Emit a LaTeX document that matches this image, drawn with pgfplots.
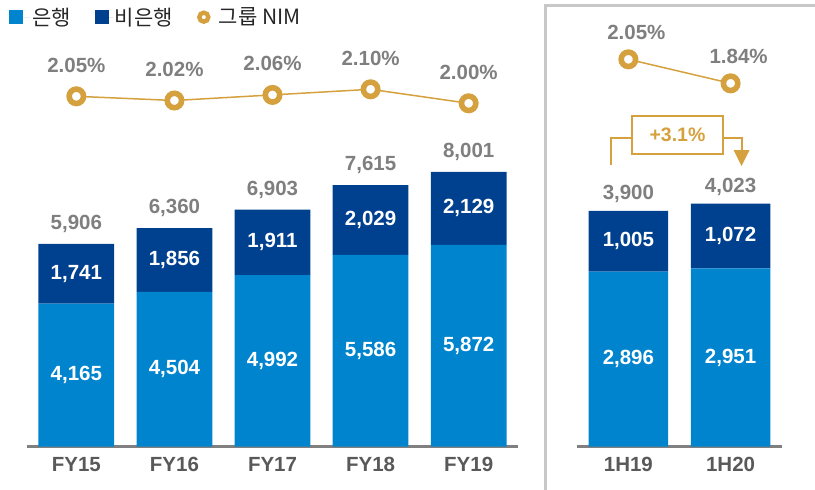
\documentclass[border=0pt]{standalone}
\usepackage{pgfplots}
\pgfplotsset{compat=1.18}
\usepackage{fontspec}
\setmainfont{Liberation Sans}
\newfontfamily\kr{Noto Sans CJK KR}

\definecolor{bank}{RGB}{0,132,206}
\definecolor{nonbank}{RGB}{0,65,143}
\definecolor{gold}{RGB}{213,161,62}
\definecolor{lbl}{RGB}{127,127,127}
\definecolor{ticktext}{RGB}{89,89,89}
\definecolor{axisgray}{RGB}{128,128,128}
\definecolor{framegray}{RGB}{200,200,200}

\newcommand\numfont{\bfseries\fontsize{20.5}{24}\selectfont}

\pgfplotsset{
  barax/.style={ybar stacked, ymin=0, enlargelimits=false, clip=false, anchor=south west,
    axis x line*=bottom, axis y line=none,
    x axis line style={-, draw=axisgray, line width=2.5pt},
    xtick style={draw=none}, major tick length=0pt,
    xticklabel style={font=\numfont, text=ticktext, anchor=center, yshift=-17.5pt},
    visualization depends on={rawy \as \rawy},
    nodes near coords={\pgfmathprintnumber{\rawy}},
    every node near coord/.append style={font=\numfont, text=white, anchor=center},
    /pgf/number format/1000 sep={,}, /pgf/number format/fixed,
    /pgf/number format/precision=0, /pgf/number format/assume math mode=true},
  totax/.style={hide axis, ymin=0, enlargelimits=false, clip=false, anchor=south west,
    point meta=y, nodes near coords,
    every node near coord/.append style={font=\numfont, text=lbl, anchor=center},
    /pgf/number format/1000 sep={,}, /pgf/number format/fixed,
    /pgf/number format/precision=0, /pgf/number format/assume math mode=true},
  nimax/.style={hide axis, enlargelimits=false, clip=false, anchor=south west,
    nodes near coords={\pgfmathprintnumber{\pgfplotspointmeta}\%},
    every node near coord/.append style={font=\numfont, text=lbl, anchor=center},
    /pgf/number format/fixed, /pgf/number format/fixed zerofill,
    /pgf/number format/precision=2, /pgf/number format/assume math mode=true},
  nimline/.style={draw=gold, line width=1.5pt, mark=*, mark size=7.2pt,
    mark options={fill=white, draw=gold, line width=5.6pt, solid}},
}

\begin{document}
\begin{tikzpicture}
\useasboundingbox (0pt,0pt) rectangle (815pt,-490pt);

% annual bars (stacked labels already sit mid-segment)
\begin{axis}[barax, x=98.08pt, y=0.03437pt, xmin=-0.5, xmax=4.5, ymax=9000,
  at={(27.3pt,-446.7pt)}, bar width=75.8pt,
  xtick={0,...,4}, xticklabels={FY15,FY16,FY17,FY18,FY19},
  legend columns=-1,
  legend style={draw=none, fill=none, at={(axis description cs:-0.0373,1.389)}, anchor=west,
    inner sep=0pt, font=\kr\fontsize{21}{24}\selectfont, text=black!85,
    /tikz/every even column/.append style={column sep=22pt}}]
\addplot[fill=bank, draw=none,
  legend image code/.code={\fill[bank] (0pt,-7pt) rectangle (14pt,7pt); \path[draw=none] (0pt,0pt) -- (21pt,0pt);}]
  coordinates {(0,4165) (1,4504) (2,4992) (3,5586) (4,5872)};
\addlegendentry{은행}
\addplot[fill=nonbank, draw=none,
  legend image code/.code={\fill[nonbank] (0pt,-7pt) rectangle (14pt,7pt); \path[draw=none] (0pt,0pt) -- (18pt,0pt);}]
  coordinates {(0,1741) (1,1856) (2,1911) (3,2029) (4,2129)};
\addlegendentry{비은행}
\addlegendimage{draw=none, legend image code/.code={\draw[gold, line width=4.4pt, fill=white] (7pt,0pt) circle (4.5pt); \path[draw=none] (0pt,0pt) -- (20pt,0pt);}}
\addlegendentry{그룹 NIM}
\end{axis}

\begin{axis}[totax, x=98.08pt, y=0.03437pt, xmin=-0.5, xmax=4.5, ymax=9000,
  at={(27.3pt,-446.7pt)}, every node near coord/.append style={yshift=20pt}]
\addplot[draw=none, mark=none] coordinates {(0,5906) (1,6360) (2,6903) (3,7615) (4,8001)};
\end{axis}

\begin{axis}[nimax, x=98.08pt, y=140pt, xmin=-0.5, xmax=4.5, ymin=1.9, ymax=2.2,
  at={(27.3pt,-117.3pt)}, every node near coord/.append style={yshift=31pt}]
\addplot[nimline] coordinates {(0,2.05) (1,2.02) (2,2.06) (3,2.10) (4,2.00)};
\end{axis}

% half-year panel
\draw[framegray, line width=3pt] (545.5pt,-495pt) -- (545.5pt,-5pt) -- (820pt,-5pt);

\begin{axis}[barax, x=102.2pt, y=0.06044pt, xmin=-0.5, xmax=1.5, ymax=5000,
  at={(577.3pt,-446.7pt)}, bar width=79.5pt,
  xtick={0,1}, xticklabels={1H19,1H20}]
\addplot[fill=bank, draw=none] coordinates {(0,2896) (1,2951)};
\addplot[fill=nonbank, draw=none] coordinates {(0,1005) (1,1072)};
\end{axis}

\begin{axis}[totax, x=102.2pt, y=0.06044pt, xmin=-0.5, xmax=1.5, ymax=5000,
  at={(577.3pt,-446.7pt)}, every node near coord/.append style={yshift=17pt}]
\addplot[draw=none, mark=none] coordinates {(0,3900) (1,4023)};
\end{axis}

\begin{axis}[nimax, x=102.2pt, y=114.3pt, xmin=-0.5, xmax=1.5, ymin=1.8, ymax=2.1,
  at={(577.3pt,-87.9pt)}, every node near coord/.append style={xshift=8pt, yshift=27pt}]
\addplot[nimline] coordinates {(0,2.05) (1,1.84)};
\end{axis}

% growth callout
\draw[gold, line width=2pt] (611pt,-165pt) |- (632pt,-138pt);
\draw[gold, line width=2pt] (723pt,-138pt) -| (741.5pt,-151pt);
\fill[gold] (733.5pt,-150pt) -- (749.5pt,-150pt) -- (741.5pt,-166pt) -- cycle;
\node[draw=gold, line width=2pt, minimum width=91pt, minimum height=38pt, inner sep=0pt,
  text=gold, font=\bfseries\fontsize{19.5}{23}\selectfont] at (677.5pt,-135pt) {+3.1\%};
\end{tikzpicture}
\end{document}
